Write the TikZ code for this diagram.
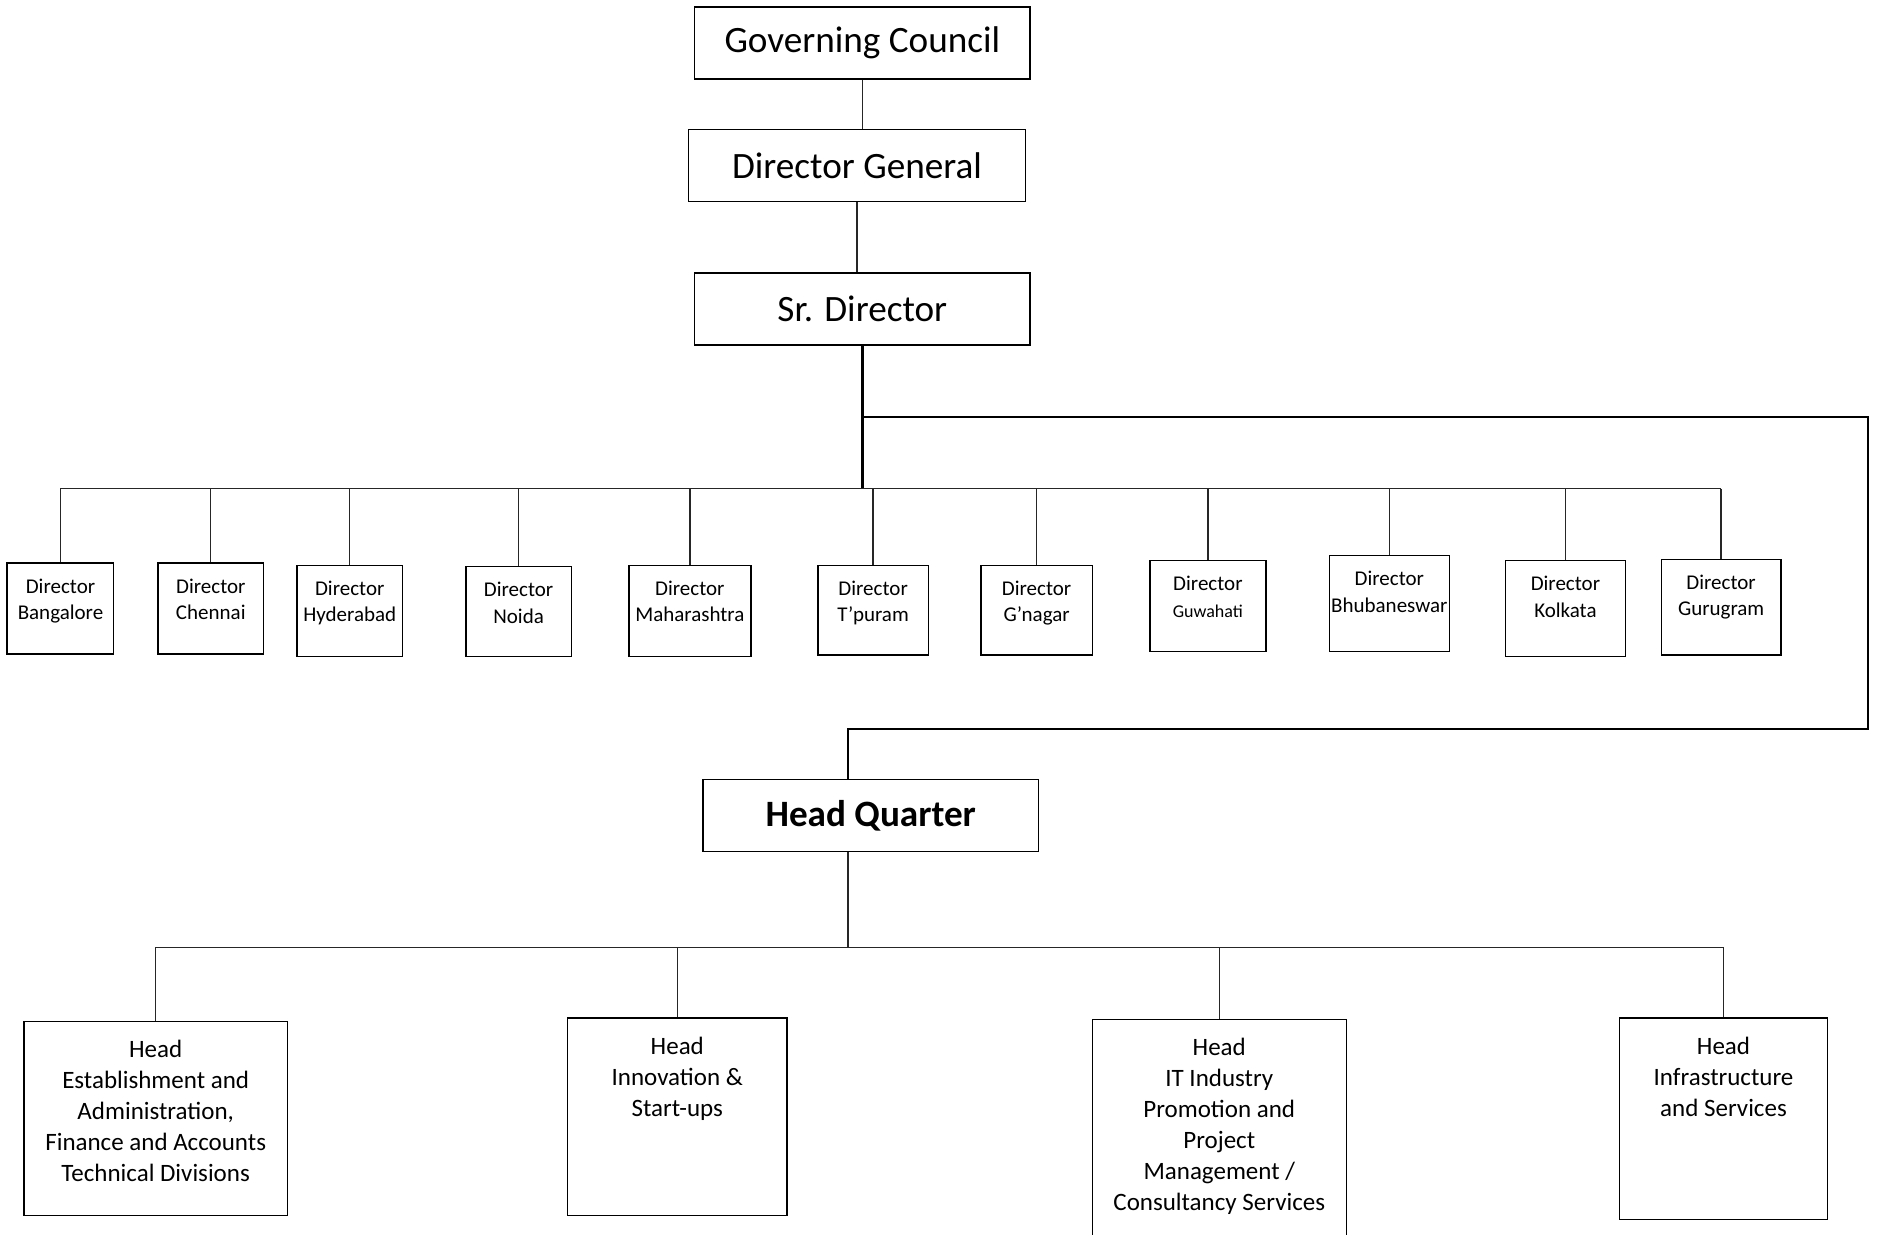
\documentclass[tikz,border=0pt]{standalone}
\usepackage{fontspec}
\setmainfont{Carlito}
\usetikzlibrary{fit,calc}

\tikzset{
  orgbox/.style={draw, inner sep=0pt, line width=0.7pt},
  bigtext/.style={anchor=center, inner sep=0pt, font=\fontsize{18.6}{22}\selectfont},
  bigbox/.style={orgbox, label={[bigtext]center:{#1}}},
  dirlabel/.style={anchor=north, yshift=-8pt, inner sep=0pt, align=center,
    font=\fontsize{10.5}{13.2}\selectfont},
  dirbox/.style={orgbox, label={[dirlabel]north:{#1}}},
  headlabel/.style={anchor=north, yshift=-9.5pt, inner sep=0pt, align=center,
    font=\fontsize{12.5}{15.5}\selectfont},
  headbox/.style={orgbox, label={[headlabel]north:{#1}}},
  link/.style={line width=0.7pt, black!85}
}

\begin{document}
\begin{tikzpicture}[x=0.5989pt, y=-0.5989pt]
\clip (0,0) rectangle (1568,1031);

% top of the chart
\node[bigbox={Governing Council}, fit={(580,6) (860,66)}] (gc) {};
\node[bigbox={Director General}, fit={(575,108) (856,168)}] (dg) {};
\node[bigbox={Sr. Director}, fit={(580,228) (860,288)}] (srd) {};

\draw[link] (gc.south) -- (gc.south |- dg.north);
\draw[link] (dg.south) -- (dg.south |- srd.north);

% regional directors
\foreach \nm/\xa/\ya/\xb/\yb/\city in {
    bng/6/470/95/546/Bangalore,
    chn/132/470/220/546/Chennai,
    hyd/248/472/336/548/Hyderabad,
    noi/389/473/477/548/Noida,
    mah/525/472/627/548/Maharashtra,
    tpm/683/472/775/547/T’puram,
    gng/819/472/912/547/G’nagar,
    guw/960/468/1057/544/{\fontsize{9}{11}\selectfont Guwahati},
    bhu/1110/464/1210/544/Bhubaneswar,
    kol/1257/468/1357/548/Kolkata,
    gur/1387/467/1487/547/Gurugram}
  \node[dirbox={Director\\\city}, fit={(\xa,\ya) (\xb,\yb)}] (\nm) {};

\coordinate (bus) at (720,408);
\draw[line width=1.4pt] (srd.south) -- (srd.south |- bus);
\draw[link] (bng.north |- bus) -- (gur.north |- bus);
\foreach \nm in {bng,chn,hyd,noi,mah,tpm,gng,guw,bhu,kol,gur}
  \draw[link] (\nm.north |- bus) -- (\nm.north);

% head quarter
\node[bigbox={\bfseries Head Quarter}, fit={(587,651) (867,711)}] (hq) {};

\coordinate (fork) at (720,348);
\coordinate (turn) at (1560,609);
\coordinate (hqin) at ($(hq.north)+(-19,0)$);
\draw[line width=1pt] (fork) -| (turn) -| (hqin);

% heads of the divisions
\node[headbox={Head\\Establishment and\\Administration,\\Finance and Accounts\\Technical Divisions},
  fit={(20,853) (240,1015)}] (est) {};
\node[headbox={Head\\Innovation \&\\Start-ups}, fit={(474,850) (657,1015)}] (inn) {};
\node[headbox={Head\\IT Industry\\Promotion and\\Project\\Management /\\Consultancy Services},
  fit={(912,851) (1124,1036)}] (itp) {};
\node[headbox={Head\\Infrastructure\\and Services}, fit={(1352,850) (1526,1018)}] (inf) {};

\coordinate (hqout) at ($(hq.south)+(-19,0)$);
\coordinate (lowbus) at (708,791);
\draw[link] (hqout) -- (hqout |- lowbus);
\draw[link] (est.north |- lowbus) -- (inf.north |- lowbus);
\foreach \nm in {est,inn,itp,inf}
  \draw[link] (\nm.north |- lowbus) -- (\nm.north);

\end{tikzpicture}
\end{document}
